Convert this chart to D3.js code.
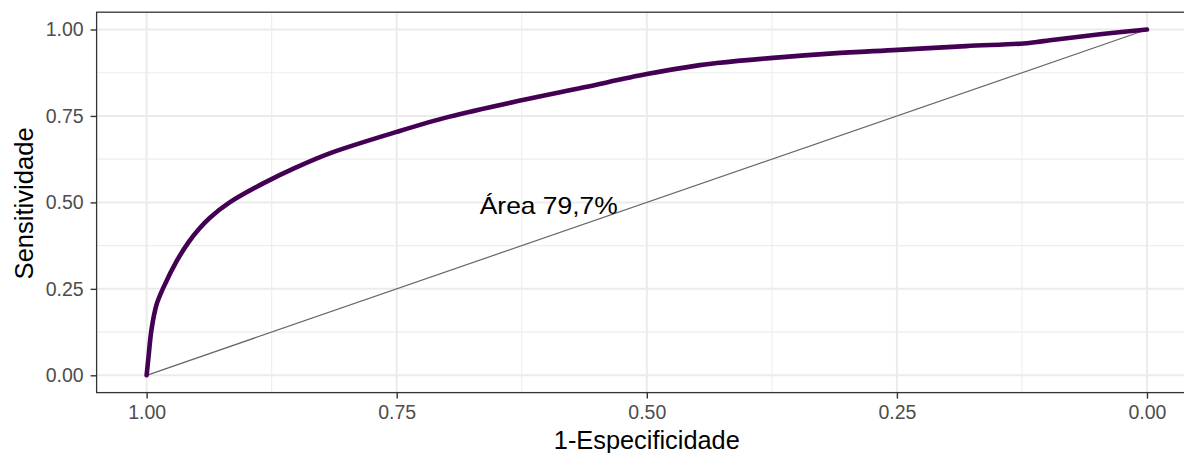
<!DOCTYPE html>
<html>
<head>
<meta charset="utf-8">
<script src="https://cdn.jsdelivr.net/npm/d3@7"></script>
<style>
  html, body { margin: 0; padding: 0; background: #fff; }
  svg { display: block; font-family: "Liberation Sans", Arial, Helvetica, sans-serif; }
</style>
</head>
<body>
<svg id="chart" width="1184" height="453"></svg>
<script>
// ROC curve: specificity (reversed axis) vs. sensitivity
const specificity = [1.000, 0.9984, 0.995, 0.990, 0.983, 0.970, 0.958, 0.947, 0.937, 0.917,
                     0.8835, 0.850, 0.817, 0.750, 0.697, 0.624, 0.564, 0.500, 0.447, 0.430,
                     0.374, 0.314, 0.249, 0.181, 0.127, 0.110, 0.097, 0.047, 0.000];
const sensitivity = [0.000, 0.045, 0.135, 0.205, 0.255, 0.330, 0.385, 0.425, 0.455, 0.500,
                     0.555, 0.602, 0.642, 0.704, 0.748, 0.796, 0.832, 0.871, 0.897, 0.903,
                     0.918, 0.931, 0.941, 0.952, 0.959, 0.964, 0.969, 0.986, 1.000];
const xTicks = [1.00, 0.75, 0.50, 0.25, 0.00];
const yTicks = [0.00, 0.25, 0.50, 0.75, 1.00];
const xMinor = [0.875, 0.625, 0.375, 0.125];
const yMinor = [0.125, 0.375, 0.625, 0.875];
const areaLabel = "Área 79,7%";
const areaLabelPos = [0.6, 0.5];
const xTitle = "1-Especificidade";
const yTitle = "Sensitividade";

const svg = d3.select("#chart");

// panel extents (5% expansion on each side of [0, 1])
const x = d3.scaleLinear().domain([1.05, -0.05]).range([96.6, 1197]);
const y = d3.scaleLinear().domain([-0.05, 1.05]).range([392.6, 12.2]);

const panel = svg.append("g");

panel.append("rect")
  .attr("x", x(1.05)).attr("y", y(1.05))
  .attr("width", x(-0.05) - x(1.05)).attr("height", y(-0.05) - y(1.05))
  .attr("fill", "#fff");

// minor grid
panel.selectAll(".xminor").data(xMinor).join("line")
  .attr("x1", d => x(d)).attr("x2", d => x(d))
  .attr("y1", y(-0.05)).attr("y2", y(1.05))
  .attr("stroke", "#ededed").attr("stroke-width", 1.1);
panel.selectAll(".yminor").data(yMinor).join("line")
  .attr("y1", d => y(d)).attr("y2", d => y(d))
  .attr("x1", x(1.05)).attr("x2", x(-0.05))
  .attr("stroke", "#ededed").attr("stroke-width", 1.1);

// major grid
panel.selectAll(".xmajor").data(xTicks).join("line")
  .attr("x1", d => x(d)).attr("x2", d => x(d))
  .attr("y1", y(-0.05)).attr("y2", y(1.05))
  .attr("stroke", "#ebebeb").attr("stroke-width", 2);
panel.selectAll(".ymajor").data(yTicks).join("line")
  .attr("y1", d => y(d)).attr("y2", d => y(d))
  .attr("x1", x(1.05)).attr("x2", x(-0.05))
  .attr("stroke", "#ebebeb").attr("stroke-width", 2);

// chance diagonal
panel.append("line")
  .attr("x1", x(1)).attr("y1", y(0))
  .attr("x2", x(0)).attr("y2", y(1))
  .attr("stroke", "#666").attr("stroke-width", 1.2);

// ROC curve
const pts = specificity.map((s, i) => [s, sensitivity[i]]);
const line = d3.line()
  .x(d => x(d[0])).y(d => y(d[1]))
  .curve(d3.curveCatmullRom.alpha(0.5));
panel.append("path")
  .attr("d", line(pts))
  .attr("fill", "none")
  .attr("stroke", "#440154")
  .attr("stroke-width", 4.6)
  .attr("stroke-linejoin", "round")
  .attr("stroke-linecap", "round");

// area annotation
panel.append("text")
  .attr("x", x(areaLabelPos[0]) + 2).attr("y", y(areaLabelPos[1]) + 3)
  .attr("text-anchor", "middle").attr("dominant-baseline", "central")
  .attr("font-size", 24).attr("fill", "#000")
  .attr("textLength", 138).attr("lengthAdjust", "spacingAndGlyphs")
  .text(areaLabel);

// panel border
panel.append("rect")
  .attr("x", x(1.05)).attr("y", y(1.05))
  .attr("width", x(-0.05) - x(1.05)).attr("height", y(-0.05) - y(1.05))
  .attr("fill", "none").attr("stroke", "#333").attr("stroke-width", 1.3);

// axes
const fmt = d3.format(".2f");
const xAxis = svg.append("g")
  .attr("transform", `translate(0,${y(-0.05)})`)
  .call(d3.axisBottom(x).tickValues(xTicks).tickFormat(fmt).tickSize(6).tickPadding(7));
const yAxis = svg.append("g")
  .attr("transform", `translate(${x(1.05)},0)`)
  .call(d3.axisLeft(y).tickValues(yTicks).tickFormat(fmt).tickSize(6).tickPadding(7));

[xAxis, yAxis].forEach(a => {
  a.select(".domain").remove();
  a.selectAll(".tick line").attr("stroke", "#333").attr("stroke-width", 1.4);
  a.selectAll(".tick text")
    .attr("fill", "#4d4d4d")
    .attr("font-size", 19.5)
    .attr("font-family", "Liberation Sans, Arial, sans-serif");
});

// axis titles
svg.append("text")
  .attr("x", (x(1.05) + x(-0.05)) / 2).attr("y", 449)
  .attr("text-anchor", "middle")
  .attr("font-size", 25).attr("fill", "#000")
  .attr("textLength", 186).attr("lengthAdjust", "spacingAndGlyphs")
  .text(xTitle);
svg.append("text")
  .attr("transform", `translate(33,${(y(-0.05) + y(1.05)) / 2 + 1}) rotate(-90)`)
  .attr("text-anchor", "middle")
  .attr("font-size", 25).attr("fill", "#000")
  .attr("textLength", 152).attr("lengthAdjust", "spacingAndGlyphs")
  .text(yTitle);
</script>
</body>
</html>
